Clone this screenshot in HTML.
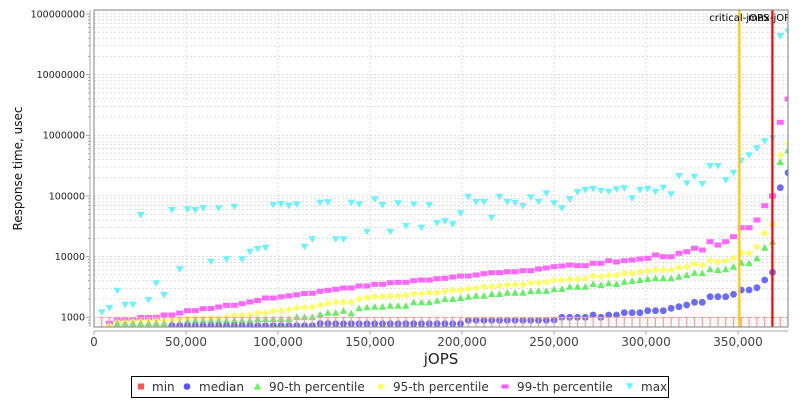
<!DOCTYPE html>
<html><head><meta charset="utf-8"><style>
html,body{margin:0;padding:0;background:#fff;}
svg{display:block;}
text{font-family:"DejaVu Sans","Liberation Sans",sans-serif;}
</style></head><body>
<svg width="800" height="400" viewBox="0 0 800 400" xmlns="http://www.w3.org/2000/svg">
<defs>
<clipPath id="pc"><rect x="94" y="10" width="694" height="317"/></clipPath>
<circle id="mb" r="3.4" fill="#6a6aff"/>
<polygon id="mg" points="0,-3.6 3.6,3 -3.6,3" fill="#60f060"/>
<polygon id="my" points="0,-3.8 3.8,0 0,3.8 -3.8,0" fill="#ffff60"/>
<rect id="mp" x="-3.5" y="-2.5" width="7" height="5" fill="#ff66ff"/>
<polygon id="mc" points="-3.8,-3 3.8,-3 0,3.6" fill="#66f4ff"/>
<path id="mt" d="M-3,0H3M0,0V10" stroke="#f5a0a0" stroke-width="1.2" fill="none"/>
</defs>
<rect x="0" y="0" width="800" height="400" fill="#fff"/>
<!-- grid -->
<g stroke="#d2d2d2" stroke-width="0.7" stroke-dasharray="2,2" fill="none">
<path d="M94 323.18H788M94 320.08H788M94 317.3H788M94 299.04H788M94 288.36H788M94 280.78H788M94 274.9H788M94 270.1H788M94 266.04H788M94 262.52H788M94 259.42H788M94 256.64H788M94 238.38H788M94 227.7H788M94 220.12H788M94 214.24H788M94 209.44H788M94 205.38H788M94 201.86H788M94 198.76H788M94 195.98H788M94 177.72H788M94 167.04H788M94 159.46H788M94 153.58H788M94 148.78H788M94 144.72H788M94 141.2H788M94 138.1H788M94 135.32H788M94 117.06H788M94 106.38H788M94 98.8H788M94 92.92H788M94 88.12H788M94 84.06H788M94 80.54H788M94 77.44H788M94 74.66H788M94 56.4H788M94 45.72H788M94 38.14H788M94 32.26H788M94 27.46H788M94 23.4H788M94 19.88H788M94 16.78H788M94 14H788"/>
<path d="M186 10V327M278 10V327M370 10V327M462 10V327M554 10V327M646 10V327M738 10V327"/>
</g>
<!-- axes -->
<g stroke="#a8a8a8" stroke-width="1" fill="none">
<path d="M90 10V327"/>
<path d="M94 331H788"/>
<path d="M86 14H90M86 74.66H90M86 135.32H90M86 195.98H90M86 256.64H90M86 317.3H90"/>
<path d="M88 323.18H90M88 320.08H90M88 299.04H90M88 288.36H90M88 280.78H90M88 274.9H90M88 270.1H90M88 266.04H90M88 262.52H90M88 259.42H90M88 238.38H90M88 227.7H90M88 220.12H90M88 214.24H90M88 209.44H90M88 205.38H90M88 201.86H90M88 198.76H90M88 177.72H90M88 167.04H90M88 159.46H90M88 153.58H90M88 148.78H90M88 144.72H90M88 141.2H90M88 138.1H90M88 117.06H90M88 106.38H90M88 98.8H90M88 92.92H90M88 88.12H90M88 84.06H90M88 80.54H90M88 77.44H90M88 56.4H90M88 45.72H90M88 38.14H90M88 32.26H90M88 27.46H90M88 23.4H90M88 19.88H90M88 16.78H90"/>
<path d="M94 331V335M186 331V335M278 331V335M370 331V335M462 331V335M554 331V335M646 331V335M738 331V335"/>
</g>
<g font-size="9.5" fill="#222" text-anchor="end">
<text x="85" y="17.4">100000000</text>
<text x="85" y="78.1">10000000</text>
<text x="85" y="138.7">1000000</text>
<text x="85" y="199.4">100000</text>
<text x="85" y="260">10000</text>
<text x="85" y="320.7">1000</text>
</g>
<g font-size="12" fill="#444" text-anchor="middle">
<text x="94" y="346">0</text>
<text x="186" y="346">50,000</text>
<text x="278" y="346">100,000</text>
<text x="370" y="346">150,000</text>
<text x="462" y="346">200,000</text>
<text x="554" y="346">250,000</text>
<text x="646" y="346">300,000</text>
<text x="738" y="346">350,000</text>
</g>
<text x="441" y="364" font-size="15" fill="#222" text-anchor="middle">jOPS</text>
<text transform="translate(22,168.5) rotate(-90)" font-size="12" fill="#111" text-anchor="middle">Response time, usec</text>

<g clip-path="url(#pc)">
<!-- max (cyan) -->
<g>
<use href="#mc" x="101.7" y="312.3"/><use href="#mc" x="109.5" y="308"/><use href="#mc" x="117.3" y="290.7"/><use href="#mc" x="125.1" y="304.7"/><use href="#mc" x="132.9" y="304.7"/><use href="#mc" x="140.7" y="215"/><use href="#mc" x="148.5" y="300"/><use href="#mc" x="156.3" y="283.3"/><use href="#mc" x="164.1" y="295"/><use href="#mc" x="171.9" y="210"/>
<use href="#mc" x="179.7" y="269.3"/><use href="#mc" x="187.5" y="209.3"/><use href="#mc" x="195.3" y="210"/><use href="#mc" x="203.1" y="208"/><use href="#mc" x="210.9" y="261.7"/><use href="#mc" x="218.7" y="208.3"/><use href="#mc" x="226.5" y="259.3"/><use href="#mc" x="234.3" y="206.7"/><use href="#mc" x="242.1" y="259.3"/><use href="#mc" x="249.9" y="251.7"/>
<use href="#mc" x="257.7" y="249"/><use href="#mc" x="265.5" y="247.7"/><use href="#mc" x="273.3" y="205"/><use href="#mc" x="281.1" y="204"/><use href="#mc" x="288.9" y="205.7"/><use href="#mc" x="296.7" y="204.3"/><use href="#mc" x="304.5" y="246.7"/><use href="#mc" x="312.3" y="239.3"/><use href="#mc" x="320.1" y="202.7"/><use href="#mc" x="327.9" y="202.3"/>
<use href="#mc" x="335.7" y="239.3"/><use href="#mc" x="343.5" y="239.3"/><use href="#mc" x="351.3" y="202.7"/><use href="#mc" x="359.1" y="204.3"/><use href="#mc" x="366.9" y="231.7"/><use href="#mc" x="374.7" y="199.3"/><use href="#mc" x="382.5" y="205"/><use href="#mc" x="390.3" y="231.7"/><use href="#mc" x="398.1" y="203.3"/><use href="#mc" x="405.9" y="226"/>
<use href="#mc" x="413.7" y="204.3"/><use href="#mc" x="421.5" y="227.7"/><use href="#mc" x="429.3" y="205"/><use href="#mc" x="437.1" y="223.3"/><use href="#mc" x="444.9" y="221.3"/><use href="#mc" x="452.7" y="224.3"/><use href="#mc" x="460.5" y="213.3"/><use href="#mc" x="468.3" y="196.7"/><use href="#mc" x="476.1" y="202"/><use href="#mc" x="483.9" y="202"/>
<use href="#mc" x="491.7" y="217.7"/><use href="#mc" x="499.5" y="196.7"/><use href="#mc" x="507.3" y="202"/><use href="#mc" x="515.1" y="202.7"/><use href="#mc" x="522.9" y="206"/><use href="#mc" x="530.7" y="197.3"/><use href="#mc" x="538.5" y="201.7"/><use href="#mc" x="546.3" y="193.3"/><use href="#mc" x="554.1" y="203.3"/><use href="#mc" x="561.9" y="208.3"/>
<use href="#mc" x="569.7" y="199.3"/><use href="#mc" x="577.5" y="192.3"/><use href="#mc" x="585.3" y="190"/><use href="#mc" x="593.1" y="189"/><use href="#mc" x="600.9" y="190.7"/><use href="#mc" x="608.7" y="191.7"/><use href="#mc" x="616.5" y="189.3"/><use href="#mc" x="624.3" y="188.3"/><use href="#mc" x="632.1" y="198.3"/><use href="#mc" x="639.9" y="190"/>
<use href="#mc" x="647.7" y="189"/><use href="#mc" x="655.5" y="191.7"/><use href="#mc" x="663.3" y="187.7"/><use href="#mc" x="671.1" y="194.3"/><use href="#mc" x="678.9" y="176"/><use href="#mc" x="686.7" y="183.3"/><use href="#mc" x="694.5" y="176.7"/><use href="#mc" x="702.3" y="184"/><use href="#mc" x="710.1" y="166"/><use href="#mc" x="717.9" y="166"/>
<use href="#mc" x="725.7" y="180"/><use href="#mc" x="733.5" y="172.7"/><use href="#mc" x="741.3" y="160.7"/><use href="#mc" x="749.1" y="155.3"/><use href="#mc" x="756.9" y="148.3"/><use href="#mc" x="764.7" y="141.3"/><use href="#mc" x="772.5" y="138.3"/><use href="#mc" x="780.3" y="36"/><use href="#mc" x="788.1" y="31.7"/>
</g>
<!-- 99th (pink) -->
<g>
<use href="#mp" x="109.5" y="323.3"/><use href="#mp" x="117.3" y="320"/><use href="#mp" x="125.1" y="320"/><use href="#mp" x="132.9" y="320"/><use href="#mp" x="140.7" y="317.5"/><use href="#mp" x="148.5" y="317.5"/><use href="#mp" x="156.3" y="317.3"/><use href="#mp" x="164.1" y="315"/><use href="#mp" x="171.9" y="315"/>
<use href="#mp" x="179.7" y="313"/><use href="#mp" x="187.5" y="310.7"/><use href="#mp" x="195.3" y="310.7"/><use href="#mp" x="203.1" y="308.7"/><use href="#mp" x="210.9" y="308.5"/><use href="#mp" x="218.7" y="307"/><use href="#mp" x="226.5" y="305.3"/><use href="#mp" x="234.3" y="305.3"/><use href="#mp" x="242.1" y="303.7"/><use href="#mp" x="249.9" y="302"/>
<use href="#mp" x="257.7" y="300.5"/><use href="#mp" x="265.5" y="298"/><use href="#mp" x="273.3" y="298"/><use href="#mp" x="281.1" y="296.8"/><use href="#mp" x="288.9" y="295.8"/><use href="#mp" x="296.7" y="294.8"/><use href="#mp" x="304.5" y="293.5"/><use href="#mp" x="312.3" y="293.3"/><use href="#mp" x="320.1" y="291.3"/><use href="#mp" x="327.9" y="290.3"/>
<use href="#mp" x="335.7" y="289.3"/><use href="#mp" x="343.5" y="288"/><use href="#mp" x="351.3" y="288"/><use href="#mp" x="359.1" y="286"/><use href="#mp" x="366.9" y="286"/><use href="#mp" x="374.7" y="284.3"/><use href="#mp" x="382.5" y="284.3"/><use href="#mp" x="390.3" y="282.7"/><use href="#mp" x="398.1" y="282.3"/><use href="#mp" x="405.9" y="282.3"/>
<use href="#mp" x="413.7" y="280.7"/><use href="#mp" x="421.5" y="280"/><use href="#mp" x="429.3" y="280"/><use href="#mp" x="437.1" y="278.7"/><use href="#mp" x="444.9" y="278.3"/><use href="#mp" x="452.7" y="277"/><use href="#mp" x="460.5" y="276"/><use href="#mp" x="468.3" y="276"/><use href="#mp" x="476.1" y="275"/><use href="#mp" x="483.9" y="273.7"/>
<use href="#mp" x="491.7" y="272.7"/><use href="#mp" x="499.5" y="272.7"/><use href="#mp" x="507.3" y="271.7"/><use href="#mp" x="515.1" y="271.7"/><use href="#mp" x="522.9" y="270.7"/><use href="#mp" x="530.7" y="270.7"/><use href="#mp" x="538.5" y="269"/><use href="#mp" x="546.3" y="268"/><use href="#mp" x="554.1" y="266.7"/><use href="#mp" x="561.9" y="266"/>
<use href="#mp" x="569.7" y="265"/><use href="#mp" x="577.5" y="265.7"/><use href="#mp" x="585.3" y="265.7"/><use href="#mp" x="593.1" y="263.3"/><use href="#mp" x="600.9" y="263.3"/><use href="#mp" x="608.7" y="260.7"/><use href="#mp" x="616.5" y="262"/><use href="#mp" x="624.3" y="260.7"/><use href="#mp" x="632.1" y="260"/><use href="#mp" x="639.9" y="259"/>
<use href="#mp" x="647.7" y="258.3"/><use href="#mp" x="655.5" y="255"/><use href="#mp" x="663.3" y="256.7"/><use href="#mp" x="671.1" y="256.7"/><use href="#mp" x="678.9" y="253.3"/><use href="#mp" x="686.7" y="251.7"/><use href="#mp" x="694.5" y="248.3"/><use href="#mp" x="702.3" y="250"/><use href="#mp" x="710.1" y="241.7"/><use href="#mp" x="717.9" y="245"/>
<use href="#mp" x="725.7" y="241.7"/><use href="#mp" x="733.5" y="236.7"/><use href="#mp" x="741.3" y="227.7"/><use href="#mp" x="749.1" y="227.7"/><use href="#mp" x="756.9" y="220"/><use href="#mp" x="764.7" y="205.7"/><use href="#mp" x="772.5" y="196"/><use href="#mp" x="780.3" y="122.3"/><use href="#mp" x="788.1" y="99"/>
</g>
<!-- 95th (yellow) -->
<g>
<use href="#my" x="109.5" y="325.7"/><use href="#my" x="117.3" y="322"/><use href="#my" x="125.1" y="322"/><use href="#my" x="132.9" y="321.5"/><use href="#my" x="140.7" y="321"/><use href="#my" x="148.5" y="321"/><use href="#my" x="156.3" y="320.5"/><use href="#my" x="164.1" y="320.5"/><use href="#my" x="171.9" y="320"/>
<use href="#my" x="179.7" y="319.5"/><use href="#my" x="187.5" y="318.3"/><use href="#my" x="195.3" y="318"/><use href="#my" x="203.1" y="318"/><use href="#my" x="210.9" y="318"/><use href="#my" x="218.7" y="318"/><use href="#my" x="226.5" y="317"/><use href="#my" x="234.3" y="315.7"/><use href="#my" x="242.1" y="315.5"/><use href="#my" x="249.9" y="315"/>
<use href="#my" x="257.7" y="312.7"/><use href="#my" x="265.5" y="312.5"/><use href="#my" x="273.3" y="311"/><use href="#my" x="281.1" y="310.8"/><use href="#my" x="288.9" y="309.7"/><use href="#my" x="296.7" y="307.7"/><use href="#my" x="304.5" y="307.5"/><use href="#my" x="312.3" y="307"/><use href="#my" x="320.1" y="305"/><use href="#my" x="327.9" y="303.3"/>
<use href="#my" x="335.7" y="302.3"/><use href="#my" x="343.5" y="302.3"/><use href="#my" x="351.3" y="302.3"/><use href="#my" x="359.1" y="299"/><use href="#my" x="366.9" y="297.7"/><use href="#my" x="374.7" y="296.7"/><use href="#my" x="382.5" y="296.7"/><use href="#my" x="390.3" y="296"/><use href="#my" x="398.1" y="296"/><use href="#my" x="405.9" y="295.3"/>
<use href="#my" x="413.7" y="293.7"/><use href="#my" x="421.5" y="293.7"/><use href="#my" x="429.3" y="292.7"/><use href="#my" x="437.1" y="292.7"/><use href="#my" x="444.9" y="291.3"/><use href="#my" x="452.7" y="290.3"/><use href="#my" x="460.5" y="290.3"/><use href="#my" x="468.3" y="288.7"/><use href="#my" x="476.1" y="288"/><use href="#my" x="483.9" y="286.7"/>
<use href="#my" x="491.7" y="286.7"/><use href="#my" x="499.5" y="285.7"/><use href="#my" x="507.3" y="284.7"/><use href="#my" x="515.1" y="284.7"/><use href="#my" x="522.9" y="284.7"/><use href="#my" x="530.7" y="282.7"/><use href="#my" x="538.5" y="282.7"/><use href="#my" x="546.3" y="282"/><use href="#my" x="554.1" y="280.3"/><use href="#my" x="561.9" y="280"/>
<use href="#my" x="569.7" y="279.3"/><use href="#my" x="577.5" y="279.3"/><use href="#my" x="585.3" y="278.7"/><use href="#my" x="593.1" y="276"/><use href="#my" x="600.9" y="276.7"/><use href="#my" x="608.7" y="275.3"/><use href="#my" x="616.5" y="275.3"/><use href="#my" x="624.3" y="273.3"/><use href="#my" x="632.1" y="273.3"/><use href="#my" x="639.9" y="271.7"/>
<use href="#my" x="647.7" y="271"/><use href="#my" x="655.5" y="270"/><use href="#my" x="663.3" y="270"/><use href="#my" x="671.1" y="270"/><use href="#my" x="678.9" y="267.7"/><use href="#my" x="686.7" y="266.7"/><use href="#my" x="694.5" y="264"/><use href="#my" x="702.3" y="265.3"/><use href="#my" x="710.1" y="260.7"/><use href="#my" x="717.9" y="261.7"/>
<use href="#my" x="725.7" y="261"/><use href="#my" x="733.5" y="258.3"/><use href="#my" x="741.3" y="252.7"/><use href="#my" x="749.1" y="253.3"/><use href="#my" x="756.9" y="246.7"/><use href="#my" x="764.7" y="233.3"/><use href="#my" x="772.5" y="224.3"/><use href="#my" x="780.3" y="155"/><use href="#my" x="788.1" y="143.3"/>
</g>
<!-- 90th (green) -->
<g>
<use href="#mg" x="117.3" y="323.3"/><use href="#mg" x="125.1" y="323.3"/><use href="#mg" x="132.9" y="323.3"/><use href="#mg" x="140.7" y="323.3"/><use href="#mg" x="148.5" y="323.3"/><use href="#mg" x="156.3" y="323.3"/><use href="#mg" x="164.1" y="323.3"/><use href="#mg" x="171.9" y="323.3"/>
<use href="#mg" x="179.7" y="323.3"/><use href="#mg" x="187.5" y="321"/><use href="#mg" x="195.3" y="320.3"/><use href="#mg" x="203.1" y="320.3"/><use href="#mg" x="210.9" y="320.3"/><use href="#mg" x="218.7" y="320.3"/><use href="#mg" x="226.5" y="320.3"/><use href="#mg" x="234.3" y="320.3"/><use href="#mg" x="242.1" y="320.3"/><use href="#mg" x="249.9" y="320.3"/>
<use href="#mg" x="257.7" y="319"/><use href="#mg" x="265.5" y="319"/><use href="#mg" x="273.3" y="319"/><use href="#mg" x="281.1" y="319"/><use href="#mg" x="288.9" y="319"/><use href="#mg" x="296.7" y="317"/><use href="#mg" x="304.5" y="317"/><use href="#mg" x="312.3" y="317"/><use href="#mg" x="320.1" y="314.5"/><use href="#mg" x="327.9" y="312.7"/>
<use href="#mg" x="335.7" y="312.7"/><use href="#mg" x="343.5" y="310.7"/><use href="#mg" x="351.3" y="313.3"/><use href="#mg" x="359.1" y="308.3"/><use href="#mg" x="366.9" y="307.3"/><use href="#mg" x="374.7" y="306.7"/><use href="#mg" x="382.5" y="306.7"/><use href="#mg" x="390.3" y="305.7"/><use href="#mg" x="398.1" y="305.7"/><use href="#mg" x="405.9" y="305.7"/>
<use href="#mg" x="413.7" y="302.3"/><use href="#mg" x="421.5" y="302.3"/><use href="#mg" x="429.3" y="302.3"/><use href="#mg" x="437.1" y="300.7"/><use href="#mg" x="444.9" y="299"/><use href="#mg" x="452.7" y="299"/><use href="#mg" x="460.5" y="298"/><use href="#mg" x="468.3" y="296.7"/><use href="#mg" x="476.1" y="295.7"/><use href="#mg" x="483.9" y="295.7"/>
<use href="#mg" x="491.7" y="294"/><use href="#mg" x="499.5" y="294"/><use href="#mg" x="507.3" y="292.7"/><use href="#mg" x="515.1" y="292.7"/><use href="#mg" x="522.9" y="292.7"/><use href="#mg" x="530.7" y="291.3"/><use href="#mg" x="538.5" y="290.7"/><use href="#mg" x="546.3" y="291"/><use href="#mg" x="554.1" y="289.3"/><use href="#mg" x="561.9" y="289"/>
<use href="#mg" x="569.7" y="286.7"/><use href="#mg" x="577.5" y="286.7"/><use href="#mg" x="585.3" y="286.7"/><use href="#mg" x="593.1" y="284"/><use href="#mg" x="600.9" y="285"/><use href="#mg" x="608.7" y="283.3"/><use href="#mg" x="616.5" y="284"/><use href="#mg" x="624.3" y="281.7"/><use href="#mg" x="632.1" y="281"/><use href="#mg" x="639.9" y="280"/>
<use href="#mg" x="647.7" y="279"/><use href="#mg" x="655.5" y="278.3"/><use href="#mg" x="663.3" y="278.3"/><use href="#mg" x="671.1" y="278.3"/><use href="#mg" x="678.9" y="276.7"/><use href="#mg" x="686.7" y="275"/><use href="#mg" x="694.5" y="272.7"/><use href="#mg" x="702.3" y="273.3"/><use href="#mg" x="710.1" y="269.3"/><use href="#mg" x="717.9" y="270"/>
<use href="#mg" x="725.7" y="269.3"/><use href="#mg" x="733.5" y="266.7"/><use href="#mg" x="741.3" y="262.7"/><use href="#mg" x="749.1" y="263.3"/><use href="#mg" x="756.9" y="258.3"/><use href="#mg" x="764.7" y="247.7"/><use href="#mg" x="772.5" y="241.7"/><use href="#mg" x="780.3" y="162"/><use href="#mg" x="788.1" y="150"/>
</g>
<!-- median (blue) -->
<g>
<use href="#mb" x="171.9" y="325.7"/><use href="#mb" x="179.7" y="325.7"/><use href="#mb" x="187.5" y="325.7"/><use href="#mb" x="195.3" y="325.7"/><use href="#mb" x="203.1" y="325.7"/><use href="#mb" x="210.9" y="325.7"/><use href="#mb" x="218.7" y="325.7"/><use href="#mb" x="226.5" y="325.7"/><use href="#mb" x="234.3" y="325.7"/><use href="#mb" x="242.1" y="325.7"/><use href="#mb" x="249.9" y="325.7"/>
<use href="#mb" x="257.7" y="325.7"/><use href="#mb" x="265.5" y="325.7"/><use href="#mb" x="273.3" y="325.7"/><use href="#mb" x="281.1" y="325.7"/><use href="#mb" x="288.9" y="325.7"/><use href="#mb" x="296.7" y="325.7"/><use href="#mb" x="304.5" y="325.7"/><use href="#mb" x="312.3" y="325.7"/><use href="#mb" x="320.1" y="323.5"/><use href="#mb" x="327.9" y="323.5"/>
<use href="#mb" x="335.7" y="323.7"/><use href="#mb" x="343.5" y="323.7"/><use href="#mb" x="351.3" y="323.7"/><use href="#mb" x="359.1" y="323.7"/><use href="#mb" x="366.9" y="323.7"/><use href="#mb" x="374.7" y="323.7"/><use href="#mb" x="382.5" y="323.7"/><use href="#mb" x="390.3" y="323.7"/><use href="#mb" x="398.1" y="323.7"/><use href="#mb" x="405.9" y="323.7"/>
<use href="#mb" x="413.7" y="323.7"/><use href="#mb" x="421.5" y="323.7"/><use href="#mb" x="429.3" y="323.7"/><use href="#mb" x="437.1" y="323.7"/><use href="#mb" x="444.9" y="323.7"/><use href="#mb" x="452.7" y="323.7"/><use href="#mb" x="460.5" y="323.7"/><use href="#mb" x="468.3" y="320.3"/><use href="#mb" x="476.1" y="320.3"/><use href="#mb" x="483.9" y="320.3"/>
<use href="#mb" x="491.7" y="320.3"/><use href="#mb" x="499.5" y="320.3"/><use href="#mb" x="507.3" y="320.3"/><use href="#mb" x="515.1" y="320.3"/><use href="#mb" x="522.9" y="320.3"/><use href="#mb" x="530.7" y="320.3"/><use href="#mb" x="538.5" y="320.3"/><use href="#mb" x="546.3" y="320.3"/><use href="#mb" x="554.1" y="320"/><use href="#mb" x="561.9" y="317.3"/>
<use href="#mb" x="569.7" y="317.3"/><use href="#mb" x="577.5" y="317.3"/><use href="#mb" x="585.3" y="317.3"/><use href="#mb" x="593.1" y="315"/><use href="#mb" x="600.9" y="317.3"/><use href="#mb" x="608.7" y="315"/><use href="#mb" x="616.5" y="315"/><use href="#mb" x="624.3" y="312.7"/><use href="#mb" x="632.1" y="312.7"/><use href="#mb" x="639.9" y="312.7"/>
<use href="#mb" x="647.7" y="310.7"/><use href="#mb" x="655.5" y="310.7"/><use href="#mb" x="663.3" y="310.7"/><use href="#mb" x="671.1" y="308.3"/><use href="#mb" x="678.9" y="306.7"/><use href="#mb" x="686.7" y="305"/><use href="#mb" x="694.5" y="302.3"/><use href="#mb" x="702.3" y="302.3"/><use href="#mb" x="710.1" y="296.7"/><use href="#mb" x="717.9" y="296.7"/>
<use href="#mb" x="725.7" y="296.7"/><use href="#mb" x="733.5" y="294.3"/><use href="#mb" x="741.3" y="290"/><use href="#mb" x="749.1" y="290"/><use href="#mb" x="756.9" y="287.7"/><use href="#mb" x="764.7" y="280"/><use href="#mb" x="772.5" y="272.3"/><use href="#mb" x="780.3" y="187.7"/><use href="#mb" x="788.1" y="172.7"/>
</g>
<!-- min (T marks) -->
<g>
<use href="#mt" x="101.7" y="317.5"/><use href="#mt" x="109.5" y="317.5"/><use href="#mt" x="117.3" y="317.5"/><use href="#mt" x="125.1" y="317.5"/><use href="#mt" x="132.9" y="317.5"/><use href="#mt" x="140.7" y="317.5"/><use href="#mt" x="148.5" y="317.5"/><use href="#mt" x="156.3" y="317.5"/><use href="#mt" x="164.1" y="317.5"/><use href="#mt" x="171.9" y="317.5"/>
<use href="#mt" x="179.7" y="317.5"/><use href="#mt" x="187.5" y="317.5"/><use href="#mt" x="195.3" y="317.5"/><use href="#mt" x="203.1" y="317.5"/><use href="#mt" x="210.9" y="317.5"/><use href="#mt" x="218.7" y="317.5"/><use href="#mt" x="226.5" y="317.5"/><use href="#mt" x="234.3" y="317.5"/><use href="#mt" x="242.1" y="317.5"/><use href="#mt" x="249.9" y="317.5"/>
<use href="#mt" x="257.7" y="317.5"/><use href="#mt" x="265.5" y="317.5"/><use href="#mt" x="273.3" y="317.5"/><use href="#mt" x="281.1" y="317.5"/><use href="#mt" x="288.9" y="317.5"/><use href="#mt" x="296.7" y="317.5"/><use href="#mt" x="304.5" y="317.5"/><use href="#mt" x="312.3" y="317.5"/><use href="#mt" x="320.1" y="317.5"/><use href="#mt" x="327.9" y="317.5"/>
<use href="#mt" x="335.7" y="317.5"/><use href="#mt" x="343.5" y="317.5"/><use href="#mt" x="351.3" y="317.5"/><use href="#mt" x="359.1" y="317.5"/><use href="#mt" x="366.9" y="317.5"/><use href="#mt" x="374.7" y="317.5"/><use href="#mt" x="382.5" y="317.5"/><use href="#mt" x="390.3" y="317.5"/><use href="#mt" x="398.1" y="317.5"/><use href="#mt" x="405.9" y="317.5"/>
<use href="#mt" x="413.7" y="317.5"/><use href="#mt" x="421.5" y="317.5"/><use href="#mt" x="429.3" y="317.5"/><use href="#mt" x="437.1" y="317.5"/><use href="#mt" x="444.9" y="317.5"/><use href="#mt" x="452.7" y="317.5"/><use href="#mt" x="460.5" y="317.5"/><use href="#mt" x="468.3" y="317.5"/><use href="#mt" x="476.1" y="317.5"/><use href="#mt" x="483.9" y="317.5"/>
<use href="#mt" x="491.7" y="317.5"/><use href="#mt" x="499.5" y="317.5"/><use href="#mt" x="507.3" y="317.5"/><use href="#mt" x="515.1" y="317.5"/><use href="#mt" x="522.9" y="317.5"/><use href="#mt" x="530.7" y="317.5"/><use href="#mt" x="538.5" y="317.5"/><use href="#mt" x="546.3" y="317.5"/><use href="#mt" x="554.1" y="317.5"/><use href="#mt" x="561.9" y="317.5"/>
<use href="#mt" x="569.7" y="317.5"/><use href="#mt" x="577.5" y="317.5"/><use href="#mt" x="585.3" y="317.5"/><use href="#mt" x="593.1" y="317.5"/><use href="#mt" x="600.9" y="317.5"/><use href="#mt" x="608.7" y="317.5"/><use href="#mt" x="616.5" y="317.5"/><use href="#mt" x="624.3" y="317.5"/><use href="#mt" x="632.1" y="317.5"/><use href="#mt" x="639.9" y="317.5"/>
<use href="#mt" x="647.7" y="317.5"/><use href="#mt" x="655.5" y="317.5"/><use href="#mt" x="663.3" y="317.5"/><use href="#mt" x="671.1" y="317.5"/><use href="#mt" x="678.9" y="317.5"/><use href="#mt" x="686.7" y="317.5"/><use href="#mt" x="694.5" y="317.5"/><use href="#mt" x="702.3" y="317.5"/><use href="#mt" x="710.1" y="317.5"/><use href="#mt" x="717.9" y="317.5"/>
<use href="#mt" x="725.7" y="317.5"/><use href="#mt" x="733.5" y="317.5"/><use href="#mt" x="741.3" y="317.5"/><use href="#mt" x="749.1" y="317.5"/><use href="#mt" x="756.9" y="317.5"/><use href="#mt" x="764.7" y="317.5"/><use href="#mt" x="772.5" y="317.5"/><use href="#mt" x="780.3" y="317.5"/><use href="#mt" x="788.1" y="317.5"/>
</g>
<!-- markers -->
<rect x="738.3" y="10" width="2.2" height="317" fill="#ffc800"/>
<rect x="771.3" y="10" width="2.2" height="317" fill="#ff0000"/>
<g font-size="10" fill="#000" text-anchor="middle">
<text x="739.3" y="21">critical-jOPS</text>
<text x="772.3" y="21">max-jOPS</text>
</g>
</g>
<rect x="94" y="10" width="694" height="317" fill="none" stroke="#808080" stroke-width="1"/>

<!-- legend -->
<rect x="131.5" y="376.5" width="537" height="21" fill="#fff" stroke="#000" stroke-width="1"/>
<rect x="138" y="383.5" width="6" height="6" fill="#ff5555"/>
<circle cx="187" cy="386.5" r="3.3" fill="#5555ff"/>
<polygon points="257.5,382.8 261,389.5 254,389.5" fill="#55ff55"/>
<polygon points="380.7,382.8 384.4,386.5 380.7,390.2 377,386.5" fill="#ffff55"/>
<rect x="501.5" y="384.5" width="7" height="4" fill="#ff55ff"/>
<polygon points="626,383.3 633.2,383.3 629.6,389.8" fill="#55ffff"/>
<g font-size="12" fill="#333">
<text x="152" y="391">min</text>
<text x="199" y="391">median</text>
<text x="269" y="391">90-th percentile</text>
<text x="393" y="391">95-th percentile</text>
<text x="517" y="391">99-th percentile</text>
<text x="641" y="391">max</text>
</g>
</svg>
</body></html>
